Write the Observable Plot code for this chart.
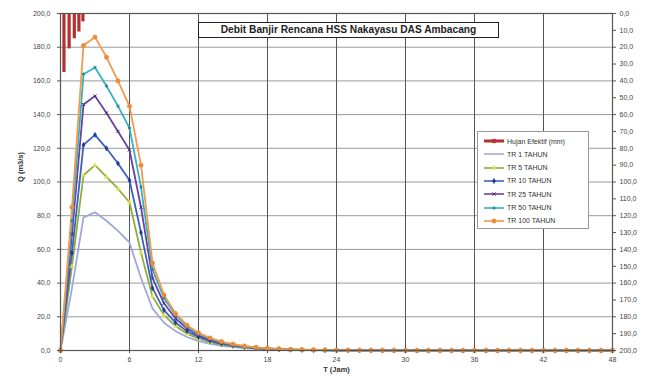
<!DOCTYPE html>
<html>
<head>
<meta charset="utf-8">
<script src="https://cdn.jsdelivr.net/npm/d3@7"></script>
<script src="https://cdn.jsdelivr.net/npm/@observablehq/plot@0.6"></script>
<style>
  html, body { margin: 0; padding: 0; background: #fff; }
  #wrap { position: relative; width: 649px; height: 378px; font-family: "Liberation Sans", Arial, sans-serif; }
  #title { position: absolute; left: 198px; top: 22px; width: 299px; height: 14px; border: 1.8px solid #222; background: #fff;
           font-weight: bold; font-size: 10.2px; line-height: 14px; text-align: center; color: #222; white-space: nowrap; }
  #legend { position: absolute; left: 477px; top: 131px; width: 110px; height: 96px; border: 1px solid #999; background: #fff;
            font-size: 7px; color: #333; }
  .li { position: absolute; left: 5px; height: 12px; display: flex; align-items: center; white-space: nowrap; }
  .li svg { margin-right: 2px; }
</style>
</head>
<body>
<div id="wrap"></div>
<script>
// ---- data ----
const hours = [0,1,2,3,4,5,6,7,8,9,10,11,12,13,14,15,16,17,18,19,20,21,22,23,24,25,26,27,28,29,30,31,32,33,34,35,36,37,38,39,40,41,42,43,44,45,46,47,48];
const tr1   = [0,37,79,82,77,71,64,43,25,16.5,11.5,8,5.6,4,2.8,2,1.4,1,0.7,0.5,0.35,0.25,0.18,0.13,0.09,0.06,0.04,0.03,0.02,0.01,0,0,0,0,0,0,0,0,0,0,0,0,0,0,0,0,0,0,0];
const tr5   = [0,50,104,110,103,96,88,58,32,21,14.5,10,7,5,3.5,2.5,1.8,1.3,0.9,0.65,0.45,0.32,0.23,0.16,0.11,0.08,0.05,0.04,0.03,0.02,0,0,0,0,0,0,0,0,0,0,0,0,0,0,0,0,0,0,0];
const tr10  = [0,58,122,128,120,111,101,70,37,24,16.5,11.5,8,5.7,4,2.9,2,1.45,1,0.72,0.5,0.36,0.26,0.18,0.13,0.09,0.06,0.04,0.03,0.02,0,0,0,0,0,0,0,0,0,0,0,0,0,0,0,0,0,0,0];
const tr25  = [0,69,146,151,141,130,119,85,43,28,19,13,9,6.4,4.5,3.2,2.3,1.6,1.15,0.8,0.57,0.4,0.29,0.2,0.14,0.1,0.07,0.05,0.04,0.03,0,0,0,0,0,0,0,0,0,0,0,0,0,0,0,0,0,0,0];
const tr50  = [0,77,164,168,157,145,132,97,48,31,21,14.2,9.8,7,5,3.5,2.5,1.8,1.3,0.9,0.63,0.45,0.32,0.23,0.16,0.11,0.08,0.06,0.04,0.03,0,0,0,0,0,0,0,0,0,0,0,0,0,0,0,0,0,0,0];
const tr100 = [0,85,181,186,174,160,145,110,52,33,22,15,10.5,7.5,5.3,3.8,2.7,1.9,1.4,1,0.7,0.5,0.36,0.26,0.18,0.13,0.09,0.07,0.05,0.04,0,0,0,0,0,0,0,0,0,0,0,0,0,0,0,0,0,0,0];
const rainT  = [0.3, 0.75, 1.2, 1.6, 1.95];
const rainMm = [35, 21, 15, 11, 5];
const xTicks = [0,6,12,18,24,30,36,42,48];
const yTicks = [0,20,40,60,80,100,120,140,160,180,200];
const rainTicks = [0,10,20,30,40,50,60,70,80,90,100,110,120,130,140,150,160,170,180,190,200];
const seriesNames = ["TR 1 TAHUN","TR 5 TAHUN","TR 10 TAHUN","TR 25 TAHUN","TR 50 TAHUN","TR 100 TAHUN"];
const title = "Debit Banjir Rencana HSS Nakayasu DAS Ambacang";
const xLabel = "T (Jam)";
const yLabel = "Q (m3/s)";
const rainLabel = "Hujan Efektif (mm)";

// ---- styles ----
const styles = [
  {line:"#9ea8dc", mark:"#9ea8dc", symbol:"circle", r:0},
  {line:"#8fae3c", mark:"#e2e04a", symbol:"triangle", r:1.6},
  {line:"#3c62bc", mark:"#1f3a94", symbol:"diamond", r:1.6},
  {line:"#6b3fa3", mark:"#4a2a80", symbol:"times", r:1.6},
  {line:"#33b3bf", mark:"#1d8a95", symbol:"asterisk", r:1.6},
  {line:"#f39a4c", mark:"#ec8c3a", symbol:"circle", r:2.2}
];
const rainColor = "#b3302e";

const values = [tr1,tr5,tr10,tr25,tr50,tr100];
const series = seriesNames.map((name,i)=>({name, ...styles[i], data: hours.map((t,j)=>({t, q: values[i][j]}))}));
const rain = rainT.map((t,i)=>({t, mm: rainMm[i]}));
const fmt = d => d3.format(".1f")(d).replace(".", ",");

const marks = [
  Plot.gridY(yTicks, {stroke:"#9a9a9a", strokeOpacity:1, strokeWidth:1}),
  Plot.gridX(xTicks, {stroke:"#555", strokeOpacity:1, strokeWidth:1}),
  Plot.ruleX(rain, {x:"t", y1: 200, y2: d => 200 - d.mm, stroke: rainColor, strokeWidth: 3.2}),
];
for (const s of series) {
  marks.push(Plot.line(s.data, {x:"t", y:"q", stroke: s.line, strokeWidth: 1.8}));
}
for (const s of series) {
  if (s.r > 0) {
    const filled = s.symbol === "circle" || s.symbol === "triangle" || s.symbol === "diamond";
    marks.push(Plot.dot(s.data, {x:"t", y:"q", symbol: s.symbol, r: s.r,
      fill: filled ? s.mark : "none", stroke: s.mark, strokeWidth: filled ? 0.5 : 1}));
  }
}
marks.push(
  Plot.frame({stroke:"#555", strokeWidth:1.2}),
  Plot.axisY(yTicks, {anchor:"left", tickFormat: fmt, tickSize: 3, tickPadding: 7, fontSize: 7, label: null, stroke:"#555", fill:"#444"}),
  Plot.axisY(rainTicks.map(r => 200 - r), {anchor:"right", tickFormat: d => fmt(200 - d), tickSize: 3, tickPadding: 4, fontSize: 7, label: null, stroke:"#555", fill:"#444"}),
  Plot.axisX(xTicks, {anchor:"bottom", tickSize: 3, tickPadding: 4, fontSize: 7, label: null, stroke:"#555", fill:"#444"}),
  Plot.text([xLabel], {frameAnchor:"bottom", dy: 21, fontSize: 7.5, fontWeight:"bold", fill:"#333"}),
  Plot.text([yLabel], {frameAnchor:"left", dx: -40, rotate: -90, fontSize: 7.5, fontWeight:"bold", fill:"#333"})
);

const chart = Plot.plot({
  width: 649, height: 378,
  marginLeft: 60, marginRight: 37, marginTop: 13, marginBottom: 28,
  style: {fontFamily: "'Liberation Sans', Arial, sans-serif", background: "#fff"},
  x: {domain: [0, 48]},
  y: {domain: [0, 200]},
  marks
});
const wrap = document.getElementById("wrap");
wrap.appendChild(chart);

// title box
const tdiv = document.createElement("div");
tdiv.id = "title"; tdiv.textContent = title;
wrap.appendChild(tdiv);

// legend
const leg = document.createElement("div");
leg.id = "legend";
const entries = [{name: rainLabel, line: rainColor, mark: rainColor, symbol:"square", r:2, w:3}]
  .concat(series.map(s => ({name: s.name, line: s.line, mark: s.mark, symbol: s.symbol, r: s.r, w: 1.6})));
entries.forEach((e, i) => {
  const row = document.createElement("div");
  row.className = "li";
  row.style.top = (3 + i * 13.3) + "px";
  const sv = d3.create("svg").attr("width", 22).attr("height", 10);
  sv.append("line").attr("x1", 1).attr("x2", 21).attr("y1", 5).attr("y2", 5).attr("stroke", e.line).attr("stroke-width", e.w);
  if (e.r > 0) {
    const filled = ["circle","triangle","diamond","square"].includes(e.symbol);
    const symMap = {circle: d3.symbolCircle, triangle: d3.symbolTriangle, diamond: d3.symbolDiamond, square: d3.symbolSquare, times: d3.symbolTimes, asterisk: d3.symbolAsterisk};
    sv.append("path").attr("transform", "translate(11,5)")
      .attr("d", d3.symbol(symMap[e.symbol], Math.PI * e.r * e.r)())
      .attr("fill", filled ? e.mark : "none").attr("stroke", e.mark).attr("stroke-width", filled ? 0.5 : 1);
  }
  row.appendChild(sv.node());
  const sp = document.createElement("span");
  sp.textContent = e.name;
  row.appendChild(sp);
  leg.appendChild(row);
});
wrap.appendChild(leg);
</script>
</body>
</html>
